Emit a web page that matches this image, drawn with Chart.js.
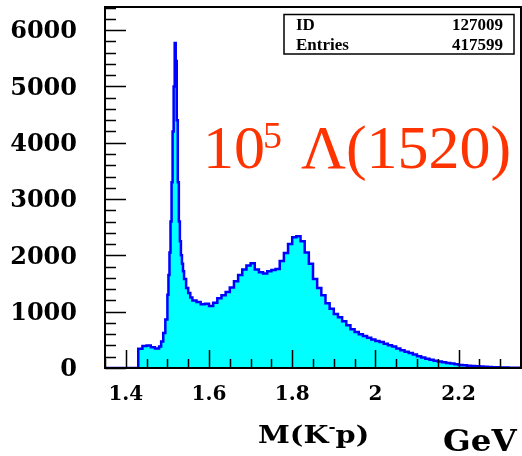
<!DOCTYPE html>
<html lang="en">
<head>
    <meta charset="UTF-8">
    <title>M(K-p) - Lambda(1520)</title>
    <script src="https://cdn.jsdelivr.net/npm/chart.js"></script>
    <style>
        html,body{margin:0;padding:0;background:#fff;}
        .wrap{position:relative;width:522px;height:456px;}
    </style>
</head>
<body>
    <div class="wrap"><canvas id="hist" width="522" height="456"></canvas></div>
    <script>
        // left bin edges (GeV) and counts
        const massEdges = [1.35, 1.43, 1.44, 1.45, 1.46, 1.47, 1.48, 1.485, 1.49, 1.495,
            1.5, 1.5025, 1.505, 1.5075, 1.51, 1.5125, 1.515, 1.5175, 1.52, 1.5225,
            1.525, 1.5275, 1.53, 1.5325, 1.535, 1.5375, 1.54, 1.545, 1.55, 1.555,
            1.56, 1.57, 1.58, 1.59, 1.60, 1.61, 1.62, 1.63, 1.64, 1.65,
            1.66, 1.67, 1.68, 1.69, 1.70, 1.71, 1.72, 1.73, 1.74, 1.75,
            1.76, 1.77, 1.78, 1.79, 1.80, 1.81, 1.82, 1.83, 1.84, 1.85,
            1.86, 1.87, 1.88, 1.89, 1.90, 1.91, 1.92, 1.93, 1.94, 1.95,
            1.96, 1.97, 1.98, 1.99, 2.00, 2.01, 2.02, 2.03, 2.04, 2.05,
            2.06, 2.07, 2.08, 2.09, 2.10, 2.11, 2.12, 2.13, 2.14, 2.15,
            2.16, 2.17, 2.18, 2.19, 2.20, 2.21, 2.22, 2.23, 2.24, 2.25,
            2.26, 2.27, 2.28, 2.29, 2.30, 2.31, 2.32, 2.33, 2.34, 2.35];
        const counts = [0, 340, 390, 400, 370, 345, 380, 470, 620, 860,
            1300, 1650, 2050, 2600, 3300, 4200, 5000, 5770, 5450, 4400,
            3300, 2600, 2250, 2000, 1850, 1720, 1580, 1420, 1330, 1250,
            1200, 1170, 1130, 1140, 1100, 1160, 1240, 1290, 1350, 1430,
            1540, 1650, 1750, 1820, 1860, 1750, 1700, 1680, 1720, 1740,
            1760, 1900, 2040, 2200, 2320, 2340, 2250, 2050, 1850, 1580,
            1420, 1290, 1150, 1050, 960, 900, 830, 760, 690, 640,
            600, 570, 535, 505, 480, 460, 430, 405, 380, 345,
            315, 290, 265, 240, 210, 185, 165, 145, 130, 115,
            100, 90, 80, 68, 55, 48, 40, 36, 30, 25,
            22, 18, 15, 12, 10, 8, 6, 5, 4, 4];
        const xTicks = [1.4, 1.6, 1.8, 2.0, 2.2];
        const xTickLabels = ['1.4', '1.6', '1.8', '2', '2.2'];
        const yTicks = [0, 1000, 2000, 3000, 4000, 5000, 6000];
        const statsRows = [['ID', '127009'], ['Entries', '417599']];

        const tickFont = '"DejaVu Serif", serif';

        // ROOT-like frame, inner ticks, stats box and titles
        const rootStyle = {
            id: 'rootStyle',
            afterDatasetsDraw(chart) {
                const { ctx, chartArea: a, scales: { x, y } } = chart;
                ctx.save();
                ctx.strokeStyle = '#000';
                ctx.lineWidth = 1.5;
                ctx.beginPath();
                for (let v = 0; v <= 6400; v += 200) {
                    const py = Math.round(y.getPixelForValue(v)) + 0.5;
                    const len = v % 1000 === 0 ? 21 : 11;
                    ctx.moveTo(a.left, py); ctx.lineTo(a.left + len, py);
                }
                for (let i = 0; i <= 20; i++) {
                    const v = 1.35 + i * 0.05;
                    const px = Math.round(x.getPixelForValue(v)) + 0.5;
                    const len = (Math.round(v * 100) % 20 === 0) ? 18 : 9;
                    ctx.moveTo(px, a.bottom); ctx.lineTo(px, a.bottom - len);
                }
                ctx.stroke();
                ctx.lineWidth = 2;
                ctx.strokeRect(a.left, a.top, a.right - a.left, a.bottom - a.top);

                // stats box
                ctx.fillStyle = '#fff';
                ctx.fillRect(284, 14.5, 230, 39.5);
                ctx.lineWidth = 1.5;
                ctx.strokeRect(284, 14.5, 230, 39.5);
                ctx.fillStyle = '#000';
                ctx.font = 'bold 17px "Liberation Serif", serif';
                statsRows.forEach((r, i) => {
                    const by = 30 + i * 20;
                    ctx.textAlign = 'left'; ctx.fillText(r[0], 296, by);
                    ctx.textAlign = 'right'; ctx.fillText(r[1], 503, by);
                });

                // big label
                ctx.fillStyle = '#ff3300';
                ctx.textAlign = 'left';
                ctx.textBaseline = 'alphabetic';
                ctx.font = '62px "Liberation Serif", serif';
                ctx.fillText('10', 203, 168);
                ctx.font = '38px "Liberation Serif", serif';
                ctx.fillText('5', 263, 148);
                ctx.font = '62px "Liberation Serif", serif';
                ctx.fillText('\u039B(1520)', 301, 168);

                // axis title M(K-p) and unit
                ctx.fillStyle = '#000';
                ctx.save();
                ctx.translate(258, 443);
                ctx.scale(1.15, 1);
                ctx.font = 'bold 25px ' + tickFont;
                let cx = 0;
                ctx.fillText('M(K', cx, 0); cx += ctx.measureText('M(K').width;
                ctx.font = 'bold 15px ' + tickFont;
                ctx.fillText('-', cx, -11); cx += ctx.measureText('-').width;
                ctx.font = 'bold 25px ' + tickFont;
                ctx.fillText('p)', cx, 0);
                ctx.restore();
                ctx.save();
                ctx.translate(443, 451);
                ctx.scale(1.12, 1);
                ctx.font = 'bold 29px ' + tickFont;
                ctx.fillText('GeV', 0, 0);
                ctx.restore();
                ctx.restore();
            }
        };

        new Chart(document.getElementById('hist'), {
            type: 'line',
            data: {
                datasets: [{
                    data: massEdges.map((m, i) => ({ x: m, y: counts[i] })),
                    stepped: true,
                    fill: 'origin',
                    backgroundColor: '#00ffff',
                    borderColor: '#0000ff',
                    borderWidth: 2.5,
                    pointRadius: 0,
                    tension: 0
                }]
            },
            options: {
                responsive: false,
                animation: false,
                layout: { autoPadding: false, padding: { top: 7, right: 1, left: 0, bottom: 0 } },
                plugins: { legend: { display: false }, tooltip: { enabled: false } },
                scales: {
                    x: {
                        type: 'linear', min: 1.35, max: 2.35,
                        grid: { display: false, drawTicks: false },
                        border: { display: false },
                        afterBuildTicks: s => { s.ticks = xTicks.map(v => ({ value: v })); },
                        afterFit: s => { s.height = 88; s.paddingLeft = 0; s.paddingRight = 0; },
                        ticks: {
                            padding: 15, color: '#000', maxRotation: 0,
                            font: { family: tickFont, weight: 'bold', size: 20 },
                            callback: (v) => xTickLabels[xTicks.findIndex(t => Math.abs(t - v) < 1e-6)]
                        }
                    },
                    y: {
                        min: 0, max: 6410,
                        grid: { display: false, drawTicks: false },
                        border: { display: false },
                        afterBuildTicks: s => { s.ticks = yTicks.map(v => ({ value: v })); },
                        afterFit: s => { s.width = 105; s.paddingTop = 0; s.paddingBottom = 0; },
                        ticks: {
                            padding: 28, color: '#000', labelOffset: 2,
                            font: { family: tickFont, weight: 'bold', size: 24 },
                            callback: (v) => String(v)
                        }
                    }
                }
            },
            plugins: [rootStyle]
        });
    </script>
</body>
</html>
